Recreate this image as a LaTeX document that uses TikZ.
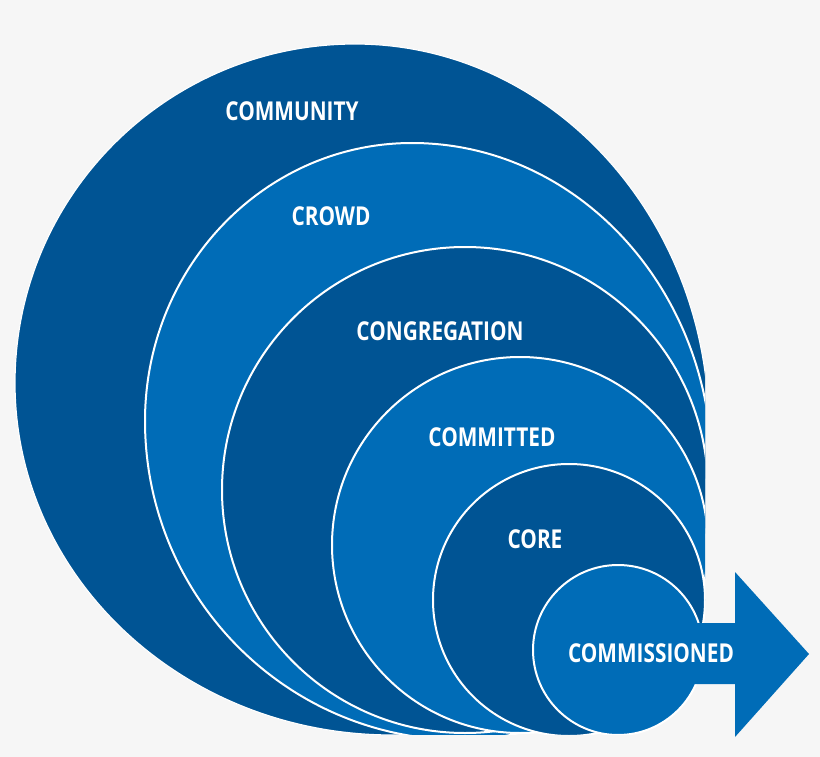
\documentclass[tikz,border=0pt]{standalone}
\usepackage{fontspec}
\newfontfamily\lblfont[FakeStretch=0.8]{Open Sans}
\definecolor{bgc}{RGB}{246,246,246}
\definecolor{darkb}{RGB}{0,84,148}
\definecolor{lightb}{RGB}{0,108,183}
\tikzset{
  ringdark/.style={fill=darkb, draw=white, line width=2pt},
  ringlight/.style={fill=lightb, draw=white, line width=2pt},
  lbl/.style={text=white, inner sep=0pt, font=\lblfont\bfseries\fontsize{26}{26}\selectfont},
}
\begin{document}
\begin{tikzpicture}[x=1pt,y=-1pt]
\useasboundingbox (0,0) rectangle (820,757);
\fill[bgc] (0,0) rectangle (820,757);
\begin{scope}
  \clip (0,0) rectangle (705,734);
  % COMMUNITY
  \path[ringdark, draw=white!85!bgc, line width=1.2pt] (355,44)
    arc[start angle=90, end angle=180, x radius=340pt, y radius=339pt]
    arc[start angle=180, end angle=270, x radius=377pt, y radius=352pt]
    arc[start angle=270, end angle=360, x radius=317pt, y radius=305pt]
    arc[start angle=0, end angle=90, x radius=354pt, y radius=386pt] -- cycle;
  % CROWD
  \path[ringlight] (412,143)
    arc[start angle=90, end angle=180, x radius=267pt, y radius=278pt]
    arc[start angle=180, end angle=270, x radius=317pt, y radius=319pt]
    arc[start angle=270, end angle=360, x radius=250pt, y radius=270pt]
    arc[start angle=0, end angle=90, x radius=300pt, y radius=327pt] -- cycle;
  % CONGREGATION
  \path[ringdark] (465,490) circle [radius=243pt];
  % COMMITTED
  \path[ringlight] (520,545) circle [radius=188pt];
  % CORE
  \path[ringdark] (569,600) circle [radius=136pt];
  % COMMISSIONED
  \path[ringlight] (618,650) circle [radius=85pt];
\end{scope}
\fill[lightb] (690,623) -- (735,623) -- (735,572) -- (809,654) -- (735,737) -- (735,684) -- (690,684) -- cycle;
\node[lbl] (community) at (292,111) {COMMUNITY};
\node[lbl] (crowd) at (331,216) {CROWD};
\node[lbl] (congregation) at (440,331) {CONGREGATION};
\node[lbl] (committed) at (492,437) {COMMITTED};
\node[lbl] (core) at (535,539) {CORE};
\node[lbl] (commissioned) at (651,653) {COMMISSIONED};
\end{tikzpicture}
\end{document}
